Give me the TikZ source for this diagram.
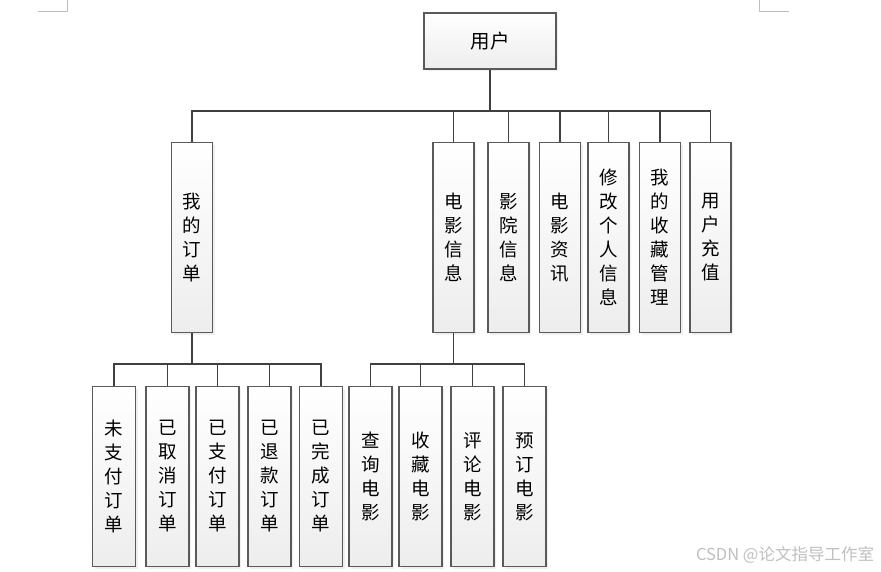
\documentclass[tikz,border=0pt]{standalone}
\usepackage{fontspec}
\newfontfamily\cjk{Noto Sans CJK SC}
\usetikzlibrary{positioning, shadows, calc}
\definecolor{linegray}{HTML}{404040}
\definecolor{boxgray}{HTML}{5A5A5A}
\tikzset{
  box/.style={
	draw=boxgray, line width=1.1pt, % border of every box
	top color=white, bottom color=black!7, % light gradient
	drop shadow={shadow xshift=2pt, shadow yshift=-2pt, fill=black!12},
	inner sep=0pt, align=center,
	font=\cjk\fontsize{18.5}{24}\selectfont,
  },
  topbox/.style={box, minimum width=41pt, minimum height=190pt},
  subbox/.style={box, minimum width=43pt, minimum height=180pt},
  link/.style={draw=linegray, line width=1.5pt},
}

\begin{document}
\begin{tikzpicture}[x=1pt, y=-1pt]
	\useasboundingbox (0,0) rectangle (881,571);

	% page corner marks
	\draw[black!25, line width=0.8pt] (38,11) -- (67,11) -- (67,0);
	\draw[black!25, line width=0.8pt] (759,0) -- (759,11) -- (789,11);

	\node[box, minimum width=132pt, minimum height=56pt, font=\cjk\fontsize{19.5}{24}\selectfont] (user) at (490,41) {用户};

	\node[topbox] (order) at (192,237.5) {我\\的\\订\\单};
	\node[topbox] (movie) at (453.5,237.5) {电\\影\\信\\息};
	\node[topbox] (cinema) at (508.5,237.5) {影\\院\\信\\息};
	\node[topbox] (news) at (560,237.5) {电\\影\\资\\讯};
	\node[topbox] (profile) at (608.5,237.5) {修\\改\\个\\人\\信\\息};
	\node[topbox] (fav) at (660,237.5) {我\\的\\收\\藏\\管\\理};
	\node[topbox] (charge) at (710.5,237.5) {用\\户\\充\\值};

	\node[subbox] (unpaid) at (114,476.5) {未\\支\\付\\订\\单};
	\node[subbox] (cancelled) at (167.5,476.5) {已\\取\\消\\订\\单};
	\node[subbox] (paid) at (217.5,476.5) {已\\支\\付\\订\\单};
	\node[subbox] (refunded) at (269.5,476.5) {已\\退\\款\\订\\单};
	\node[subbox] (done) at (321,476.5) {已\\完\\成\\订\\单};

	\node[subbox] (search) at (370.5,476.5) {查\\询\\电\\影};
	\node[subbox] (collect) at (420.5,476.5) {收\\藏\\电\\影};
	\node[subbox] (comment) at (472.5,476.5) {评\\论\\电\\影};
	\node[subbox] (book) at (524.5,476.5) {预\\订\\电\\影};

	\coordinate (bus1) at (490,111);
	\coordinate (bus2) at (192,364);
	\coordinate (bus3) at (453.5,364);

	\foreach \n in {order, movie, cinema, news, profile, fav, charge}
		\draw[link] (user.south) -- (bus1) -| (\n.north);
	\foreach \n in {unpaid, cancelled, paid, refunded, done}
		\draw[link] (order.south) -- (bus2) -| (\n.north);
	\foreach \n in {search, collect, comment, book}
		\draw[link] (movie.south) -- (bus3) -| (\n.north);

	\node[text=black!25, font=\cjk\fontsize{16.5}{18}\selectfont] (mark) at (785,555) {CSDN @论文指导工作室};
\end{tikzpicture}
\end{document}
